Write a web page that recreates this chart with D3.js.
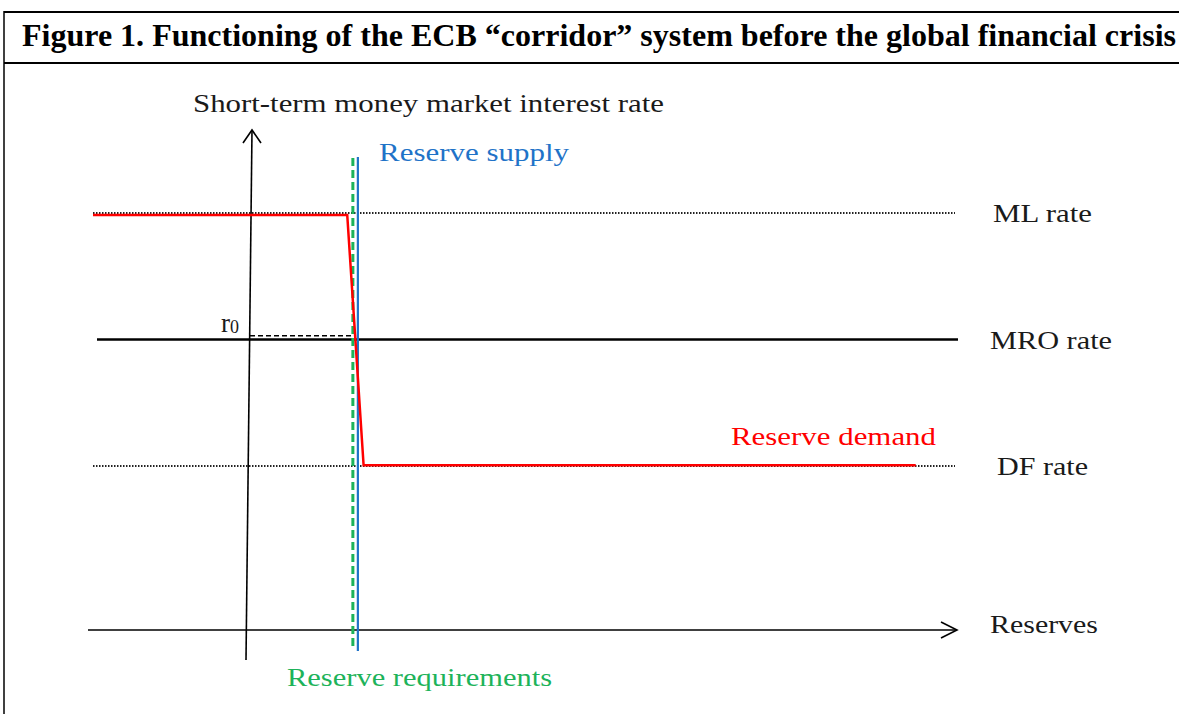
<!DOCTYPE html>
<html>
<head>
<meta charset="utf-8">
<script src="https://cdn.jsdelivr.net/npm/d3@7"></script>
<style>
  body { margin: 0; background: #fff; }
  svg text { font-family: "Liberation Serif", "Times New Roman", Times, serif; }
</style>
</head>
<body>
<script>
(function () {
    //policy rates (arbitrary units, equal spacing as in the figure)
    var rateNames = ["ML rate", "MRO rate", "DF rate"];
    var rateValues = [3, 2, 1];
    var rateStyles = ["dotted", "solid", "dotted"];
    var r0 = 2.03; //market rate, slightly above MRO

    //reserves (x units), y axis at 0, requirement at 1
    var reserveReq = 1;
    var demandX = [-1.4, 0.93, 1.08, 6.14];
    var demandY = [2.985, 2.985, 1.005, 1.005];

    var width = 1179, height = 714;

    var svg = d3.select("body").append("svg")
        .attr("width", width)
        .attr("height", height);

    //frame and title
    svg.append("line").attr("x1", 4).attr("x2", width).attr("y1", 12).attr("y2", 12)
        .attr("stroke", "#000").attr("stroke-width", 2);
    svg.append("line").attr("x1", 4).attr("x2", width).attr("y1", 63).attr("y2", 63)
        .attr("stroke", "#000").attr("stroke-width", 2);
    svg.append("line").attr("x1", 4).attr("x2", 4).attr("y1", 11).attr("y2", height)
        .attr("stroke", "#000").attr("stroke-width", 1.5);
    svg.append("text")
        .attr("x", 22).attr("y", 46)
        .attr("textLength", 1154).attr("lengthAdjust", "spacingAndGlyphs")
        .style("font-weight", "bold").style("font-size", "31px")
        .text("Figure 1. Functioning of the ECB \u201ccorridor\u201d system before the global financial crisis");

    //scales
    var x = d3.scaleLinear().domain([-1.4, 6.5]).range([93, 955]);
    var y = d3.scaleLinear().domain([1, 3]).range([466, 213]);
    var xAxisY = 630;

    //helper for labels stretched to the width seen in the figure
    function label(txt, lx, ly, w, size, color) {
        return svg.append("text")
            .attr("x", lx).attr("y", ly)
            .attr("textLength", w).attr("lengthAdjust", "spacingAndGlyphs")
            .style("font-size", size + "px").style("fill", color)
            .text(txt);
    }

    //rate lines
    var labelX = [993, 990, 997], labelW = [99, 122, 91];
    rateValues.forEach(function (v, i) {
        var solid = rateStyles[i] == "solid";
        svg.append("line")
            .attr("x1", solid ? 97 : 93).attr("x2", solid ? 958 : 955)
            .attr("y1", y(v)).attr("y2", y(v))
            .attr("stroke", solid ? "#000" : "#222")
            .attr("stroke-width", solid ? 2.5 : 1.8)
            .attr("stroke-dasharray", solid ? null : "1.5,1.5");
        label(rateNames[i], labelX[i], y(v) + 9, labelW[i], 26, "#1a1a1a");
    });

    //x axis with arrow
    svg.append("line").attr("x1", 88).attr("x2", 956).attr("y1", xAxisY).attr("y2", xAxisY)
        .attr("stroke", "#000").attr("stroke-width", 1.6);
    svg.append("path")
        .attr("d", "M941,622 L957,630 L941,638")
        .attr("fill", "none").attr("stroke", "#000").attr("stroke-width", 1.6);
    label("Reserves", 990, xAxisY + 3, 108, 26, "#1a1a1a");

    //y axis (slightly tilted as in the scan) with arrow
    svg.append("line").attr("x1", 252).attr("x2", 246).attr("y1", 130).attr("y2", 660)
        .attr("stroke", "#000").attr("stroke-width", 1.6);
    svg.append("path")
        .attr("d", "M243,143 L252,130 L261,143")
        .attr("fill", "none").attr("stroke", "#000").attr("stroke-width", 1.6);
    label("Short-term money market interest rate", 193, 112, 471, 26, "#1a1a1a");

    //r0 dashed line
    svg.append("line").attr("x1", 250).attr("x2", x(reserveReq)).attr("y1", y(r0)).attr("y2", y(r0))
        .attr("stroke", "#000").attr("stroke-width", 1.6).attr("stroke-dasharray", "5,3");
    var rt = svg.append("text").attr("x", 221).attr("y", y(r0) - 4)
        .style("font-size", "27px").style("fill", "#1a1a1a");
    rt.append("tspan").text("r");
    rt.append("tspan").attr("dy", 1).style("font-size", "18px").text("0");

    //reserve requirements (green dashed) and reserve supply (blue)
    svg.append("line").attr("x1", x(reserveReq) - 2).attr("x2", x(reserveReq) - 2)
        .attr("y1", 158).attr("y2", 650)
        .attr("stroke", "#1db35a").attr("stroke-width", 3).attr("stroke-dasharray", "8,4");
    svg.append("line").attr("x1", x(reserveReq) + 3).attr("x2", x(reserveReq) + 3)
        .attr("y1", 157).attr("y2", 651)
        .attr("stroke", "#1f73c8").attr("stroke-width", 2.2);
    label("Reserve supply", 379, 161, 190, 26, "#1f73c8");
    label("Reserve requirements", 287, 686, 265, 26, "#1db35a");

    //reserve demand curve
    var demand = demandX.map(function (d, i) { return [d, demandY[i]]; });
    svg.append("path")
        .datum(demand)
        .attr("d", d3.line().x(function (d) { return x(d[0]); }).y(function (d) { return y(d[1]); }))
        .attr("fill", "none").attr("stroke", "#ff0000").attr("stroke-width", 2.5);
    label("Reserve demand", 731, 445, 205, 26, "#ff0000");
})();
</script>
</body>
</html>
